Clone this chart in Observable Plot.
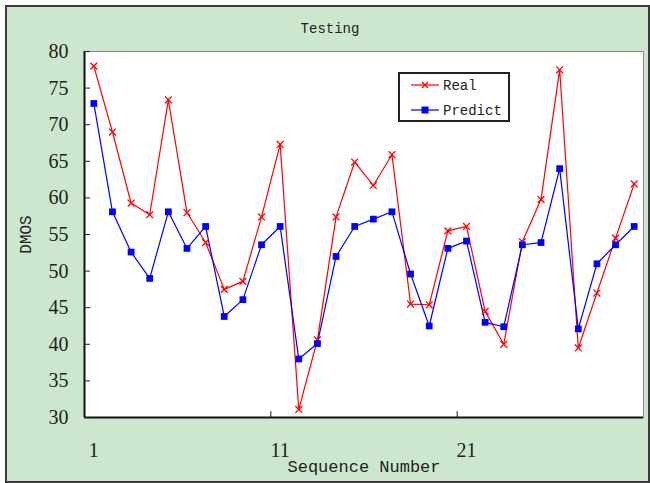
<!DOCTYPE html>
<html><head><meta charset="utf-8">
<script src="https://cdn.jsdelivr.net/npm/d3@7"></script>
<script src="https://cdn.jsdelivr.net/npm/@observablehq/plot@0.6"></script>
<style>
html,body{margin:0;padding:0;background:#fff;}
#wrap{position:relative;width:650px;height:483px;overflow:hidden;}
#bg{position:absolute;left:5px;top:5px;width:641px;height:474px;background:#cde7cf;border:2px solid #3a3a3a;}
#chart{position:absolute;left:0;top:0;}
#legend{position:absolute;left:398px;top:72px;width:108px;height:46px;background:#fff;border:2px solid #222;}
</style></head>
<body><div id="wrap"><div id="bg"></div><div id="chart"></div><div id="legend"></div></div>
<script>
const seq = d3.range(1, 31);
const real = [78, 69, 59.3, 57.7, 73.4, 58, 53.9, 47.5, 48.6, 57.4,
              67.3, 31.1, 40.6, 57.4, 64.9, 61.7, 65.9, 45.5, 45.4, 55.5,
              56.1, 44.5, 40, 54, 59.8, 77.5, 39.5, 47, 54.5, 61.9];
const predict = [72.9, 58.1, 52.6, 49, 58.1, 53.1, 56.1, 43.8, 46.1, 53.6,
                 56.1, 38, 40.1, 52, 56.1, 57.1, 58.1, 49.6, 42.5, 53.1,
                 54.1, 43, 42.4, 53.6, 53.9, 64, 42.1, 51, 53.6, 56.1];
const yTicks = [30, 35, 40, 45, 50, 55, 60, 65, 70, 75, 80];
const xTickLabels = [1, 11, 21];
const seriesNames = ["Real", "Predict"];
const seriesColors = ["#ff0000", "#0000ff"];
const seriesSymbols = ["times", "square"];
const titleText = "Testing";
const xTitle = "Sequence Number";
const yTitle = "DMOS";

const data = seq.flatMap((s, i) => [
  {seq: s, value: real[i], series: "Real"},
  {seq: s, value: predict[i], series: "Predict"}
]);
const boundaries = xTickLabels.slice(1).map(d => d - 0.5);
const mono = "Liberation Mono, monospace";
const serif = "Liberation Serif, serif";

const plot = Plot.plot({
  width: 650, height: 483,
  marginLeft: 84, marginRight: 7, marginTop: 51, marginBottom: 66,
  style: {background: "transparent", fontFamily: serif, color: "#222"},
  x: {domain: [0.5, 30.5]},
  y: {domain: [30, 80]},
  color: {domain: seriesNames, range: seriesColors},
  symbol: {domain: seriesNames, range: seriesSymbols},
  marks: [
    Plot.frame({fill: "white", stroke: "#888", strokeWidth: 1}),
    Plot.ruleX([0.5], {stroke: "#111", strokeWidth: 2}),
    Plot.ruleY([30], {stroke: "#111", strokeWidth: 2}),
    Plot.tickY(yTicks, {y: d => d, insetRight: 553, stroke: "#222"}),
    Plot.tickX(boundaries, {x: d => d, insetTop: 360, stroke: "#222"}),
    Plot.axisY(yTicks, {tickSize: 0, tickPadding: 16, fontSize: 20, fontFamily: serif, label: null}),
    Plot.axisX(xTickLabels, {tickSize: 0, tickPadding: 25, fontSize: 20, fontFamily: serif, label: null}),
    Plot.line(data, {x: "seq", y: "value", z: "series", stroke: "series", strokeWidth: 1.2}),
    Plot.dot(data.filter(d => d.series === "Real"), {x: "seq", y: "value", symbol: "series", stroke: "series", r: 3.2, strokeWidth: 1.3}),
    Plot.dot(data.filter(d => d.series === "Predict"), {x: "seq", y: "value", symbol: "series", fill: "series", r: 3.8}),
    Plot.text([titleText], {frameAnchor: "top", lineAnchor: "middle", dx: -34, dy: -23, fontSize: 14, fontFamily: mono, fill: "#222"}),
    Plot.text([xTitle], {frameAnchor: "bottom", lineAnchor: "middle", dy: 49, fontSize: 17, fontFamily: mono, fill: "#222"}),
    Plot.text([yTitle], {frameAnchor: "left", textAnchor: "middle", lineAnchor: "middle", dx: -59, rotate: -90, fontSize: 16, fontFamily: mono, fill: "#222"})
  ]
});
document.getElementById("chart").appendChild(plot);

// legend
const ns = "http://www.w3.org/2000/svg";
const lg = document.createElementNS(ns, "svg");
lg.setAttribute("width", 108); lg.setAttribute("height", 46);
seriesNames.forEach((name, i) => {
  const y = 11 + i * 25;
  const col = seriesColors[i];
  const line = document.createElementNS(ns, "line");
  line.setAttribute("x1", 11); line.setAttribute("x2", 39);
  line.setAttribute("y1", y); line.setAttribute("y2", y);
  line.setAttribute("stroke", col); line.setAttribute("stroke-width", 1.2);
  lg.appendChild(line);
  if (seriesSymbols[i] === "times") {
    const p = document.createElementNS(ns, "path");
    p.setAttribute("d", `M${25-3},${y-3}L${25+3},${y+3}M${25-3},${y+3}L${25+3},${y-3}`);
    p.setAttribute("stroke", col); p.setAttribute("stroke-width", 1.3);
    lg.appendChild(p);
  } else {
    const r = document.createElementNS(ns, "rect");
    r.setAttribute("x", 25 - 3.5); r.setAttribute("y", y - 3.5);
    r.setAttribute("width", 7); r.setAttribute("height", 7);
    r.setAttribute("fill", col);
    lg.appendChild(r);
  }
  const t = document.createElementNS(ns, "text");
  t.setAttribute("x", 43); t.setAttribute("y", y);
  t.setAttribute("dy", "0.35em");
  t.setAttribute("font-family", mono);
  t.setAttribute("font-size", 14);
  t.setAttribute("fill", "#222");
  t.textContent = name;
  lg.appendChild(t);
});
document.getElementById("legend").appendChild(lg);
</script>
</body></html>
